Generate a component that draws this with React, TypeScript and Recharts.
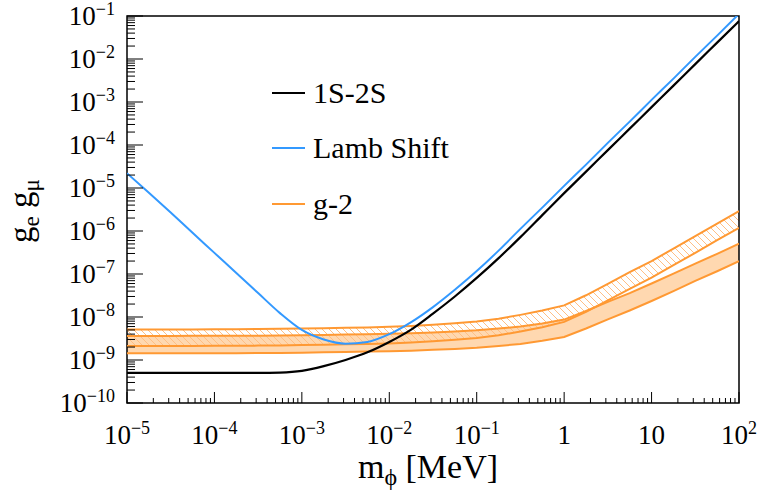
import { Area, ComposedChart, Legend, Line, ReferenceArea, XAxis, YAxis } from 'recharts';

// mediator mass m_phi [MeV], 4 points per decade
const masses = [
  1e-5, 1.78e-5, 3.16e-5, 5.62e-5, 1e-4, 1.78e-4, 3.16e-4, 5.62e-4, 1e-3, 1.78e-3, 3.16e-3, 5.62e-3,
  1e-2, 1.78e-2, 3.16e-2, 5.62e-2, 0.1, 0.178, 0.316, 0.562, 1, 1.78, 3.16, 5.62, 10, 17.8, 31.6, 56.2, 100,
];

// 1S-2S bound on g_e g_mu
const oneSTwoS = [
  5.0e-10, 5.0e-10, 5.0e-10, 5.0e-10, 5.0e-10, 5.0e-10, 5.0e-10, 5.1e-10, 5.6e-10, 7.2e-10, 1.0e-9, 1.51e-9,
  2.63e-9, 5.1e-9, 1.2e-8, 3.0e-8, 8.1e-8, 2.34e-7, 7.2e-7, 2.34e-6, 7.6e-6, 2.4e-5, 7.6e-5, 2.4e-4, 7.6e-4,
  2.4e-3, 7.6e-3, 2.4e-2, 7.6e-2,
];

// Lamb shift bound
const lambShift = [
  2.2e-5, 7.8e-6, 2.7e-6, 9.1e-7, 3.1e-7, 1.05e-7, 3.6e-8, 1.23e-8, 5.0e-9, 3.0e-9, 2.4e-9, 2.63e-9,
  3.98e-9, 7.6e-9, 1.7e-8, 4.3e-8, 1.17e-7, 3.5e-7, 1.12e-6, 3.5e-6, 1.12e-5, 3.5e-5, 1.12e-4, 3.5e-4, 1.12e-3,
  3.5e-3, 1.12e-2, 3.5e-2, 0.112,
];

// g-2, hatched band
const g2HatchHigh = [
  5.13e-9, 5.13e-9, 5.13e-9, 5.15e-9, 5.2e-9, 5.22e-9, 5.25e-9, 5.3e-9, 5.4e-9, 5.47e-9, 5.6e-9, 5.7e-9,
  5.9e-9, 6.2e-9, 6.6e-9, 7.16e-9, 7.85e-9, 9.1e-9, 1.12e-8, 1.41e-8, 1.86e-8, 3.2e-8, 5.9e-8, 1.1e-7, 2.0e-7,
  3.9e-7, 7.6e-7, 1.48e-6, 2.9e-6,
];
const g2HatchLow = [
  2.11e-9, 2.11e-9, 2.11e-9, 2.12e-9, 2.14e-9, 2.15e-9, 2.16e-9, 2.18e-9, 2.22e-9, 2.25e-9, 2.31e-9, 2.35e-9,
  2.43e-9, 2.55e-9, 2.72e-9, 2.95e-9, 3.23e-9, 3.75e-9, 4.6e-9, 5.8e-9, 7.7e-9, 1.32e-8, 2.43e-8, 4.5e-8, 8.2e-8,
  1.6e-7, 3.1e-7, 6.1e-7, 1.19e-6,
];

// g-2, filled band
const g2FillHigh = [
  3.63e-9, 3.63e-9, 3.63e-9, 3.64e-9, 3.65e-9, 3.66e-9, 3.67e-9, 3.71e-9, 3.76e-9, 3.83e-9, 3.9e-9, 3.98e-9,
  4.07e-9, 4.2e-9, 4.37e-9, 4.57e-9, 4.9e-9, 5.4e-9, 6.0e-9, 7.1e-9, 8.7e-9, 1.38e-8, 2.24e-8, 3.6e-8, 6.0e-8,
  1.02e-7, 1.74e-7, 2.95e-7, 5.1e-7,
];
const g2FillLow = [
  1.43e-9, 1.43e-9, 1.43e-9, 1.44e-9, 1.44e-9, 1.44e-9, 1.45e-9, 1.46e-9, 1.48e-9, 1.51e-9, 1.54e-9, 1.57e-9,
  1.6e-9, 1.65e-9, 1.72e-9, 1.8e-9, 1.93e-9, 2.13e-9, 2.36e-9, 2.8e-9, 3.43e-9, 5.4e-9, 8.8e-9, 1.42e-8, 2.36e-8,
  4.0e-8, 6.9e-8, 1.16e-7, 2.0e-7,
];

const xMajorTicks = [1e-5, 1e-4, 1e-3, 1e-2, 1e-1, 1, 10, 100];
const xTickBase = ['10', '10', '10', '10', '10', '1', '10', '10'];
const xTickExp = ['−5', '−4', '−3', '−2', '−1', '', '', '2'];

const yMajorTicks = [1e-10, 1e-9, 1e-8, 1e-7, 1e-6, 1e-5, 1e-4, 1e-3, 1e-2, 1e-1];
const yTickExp = ['−10', '−9', '−8', '−7', '−6', '−5', '−4', '−3', '−2', '−1'];

const legendNames = ['1S-2S', 'Lamb Shift', 'g-2'];
const legendColors = ['#000000', '#3399ff', '#ff9933'];

const ORANGE = '#ff9933';
const FONT = '"Liberation Serif", "Times New Roman", serif';

// plot frame in page pixels
const PLOT_LEFT = 127;
const PLOT_BOTTOM = 403;

const withMinors = (majors: number[]) => {
  const out: number[] = [];
  majors.forEach((m, i) => {
    out.push(m);
    if (i < majors.length - 1) [2, 3, 4, 5, 6, 7, 8, 9].forEach((k) => out.push(m * k));
  });
  return out;
};

const data = masses.map((m, i) => ({
  m,
  oneS: oneSTwoS[i],
  lamb: lambShift[i],
  hHigh: g2HatchHigh[i],
  hLow: g2HatchLow[i],
  fHigh: g2FillHigh[i],
  fLow: g2FillLow[i],
}));

function XTick({ x, payload }: any) {
  const idx = xMajorTicks.indexOf(payload.value);
  const major = idx >= 0;
  return (
    <g>
      <line x1={x} x2={x} y1={PLOT_BOTTOM} y2={PLOT_BOTTOM - (major ? 11 : 5)} stroke="#000" strokeWidth={1} />
      {major && (
        <text x={x} y={444} textAnchor="middle" fontFamily={FONT} fontSize={27} fill="#000">
          <tspan>{xTickBase[idx]}</tspan>
          {xTickExp[idx] && (
            <tspan dy={-10} fontSize={18}>
              {xTickExp[idx]}
            </tspan>
          )}
        </text>
      )}
    </g>
  );
}

function YTick({ y, payload }: any) {
  const idx = yMajorTicks.indexOf(payload.value);
  const major = idx >= 0;
  return (
    <g>
      <line x1={PLOT_LEFT} x2={PLOT_LEFT + (major ? 16 : 8)} y1={y} y2={y} stroke="#000" strokeWidth={1} />
      {major && (
        <text x={115} y={y + 9} textAnchor="end" fontFamily={FONT} fontSize={27} fill="#000">
          <tspan>10</tspan>
          <tspan dy={-10} fontSize={18}>
            {yTickExp[idx]}
          </tspan>
        </text>
      )}
    </g>
  );
}

function YTitle() {
  return (
    <text x={32} y={211} transform="rotate(-90 32 211)" textAnchor="middle" fontFamily={FONT} fontSize={33} fill="#000">
      g<tspan dy={7} fontSize={23}>e</tspan>
      <tspan dy={-7}> g</tspan>
      <tspan dy={7} fontSize={23}>μ</tspan>
    </text>
  );
}

function XTitle() {
  return (
    <text x={428} y={478} textAnchor="middle" fontFamily={FONT} fontSize={34} fill="#000">
      m<tspan dy={7} fontSize={24}>ϕ</tspan>
      <tspan dy={-7}> [MeV]</tspan>
    </text>
  );
}

function LegendBox() {
  return (
    <div style={{ fontFamily: FONT, fontSize: 30, color: '#000' }}>
      {legendNames.map((name, i) => (
        <div key={name} style={{ display: 'flex', alignItems: 'center', height: 55.5 }}>
          <div style={{ width: 33, height: 0, borderTop: `2px solid ${legendColors[i]}`, marginRight: 8 }} />
          <span style={{ lineHeight: 1 }}>{name}</span>
        </div>
      ))}
    </div>
  );
}

export default function App() {
  return (
    <div style={{ position: 'absolute', left: 0, top: 0, width: 769, height: 497, background: '#fff' }}>
      <ComposedChart width={769} height={497} data={data} margin={{ top: 16, right: 30, bottom: 0, left: 0 }}>
        <defs>
          <pattern id="hatch" patternUnits="userSpaceOnUse" width={7} height={7}>
            <path d="M0,0 L7,7 M-1,6 L1,8 M6,-1 L8,1" stroke="#ffbf85" strokeWidth={1} />
          </pattern>
        </defs>
        <XAxis
          dataKey="m"
          type="number"
          scale="log"
          domain={[1e-5, 100]}
          allowDataOverflow
          ticks={withMinors(xMajorTicks)}
          interval={0}
          tick={<XTick />}
          tickLine={false}
          axisLine={false}
          height={94}
          label={<XTitle />}
        />
        <YAxis
          type="number"
          scale="log"
          domain={[1e-10, 0.1]}
          allowDataOverflow
          ticks={withMinors(yMajorTicks)}
          interval={0}
          tick={<YTick />}
          tickLine={false}
          axisLine={false}
          width={127}
          label={<YTitle />}
        />
        <Area
          dataKey={(d: any) => [d.fLow, d.fHigh]}
          type="linear"
          fill="#ffd8b0"
          fillOpacity={1}
          stroke="none"
          isAnimationActive={false}
          legendType="none"
        />
        <Area
          dataKey={(d: any) => [d.hLow, d.hHigh]}
          type="linear"
          fill="url(#hatch)"
          fillOpacity={1}
          stroke="none"
          isAnimationActive={false}
          legendType="none"
        />
        <Line dataKey="fLow" type="linear" stroke={ORANGE} strokeWidth={2} dot={false} isAnimationActive={false} />
        <Line dataKey="fHigh" type="linear" stroke={ORANGE} strokeWidth={2} dot={false} isAnimationActive={false} />
        <Line dataKey="hLow" type="linear" stroke={ORANGE} strokeWidth={2} dot={false} isAnimationActive={false} />
        <Line dataKey="hHigh" type="linear" stroke={ORANGE} strokeWidth={2} dot={false} isAnimationActive={false} />
        <Line dataKey="oneS" type="monotone" stroke="#000" strokeWidth={2.2} dot={false} isAnimationActive={false} />
        <Line dataKey="lamb" type="monotone" stroke="#3399ff" strokeWidth={2} dot={false} isAnimationActive={false} />
        <ReferenceArea x1={1e-5} x2={100} y1={1e-10} y2={0.1} fill="none" stroke="#000" strokeWidth={1.5} />
        <Legend
          layout="vertical"
          align="center"
          verticalAlign="middle"
          wrapperStyle={{ left: 272, top: 65, width: 260, height: 170 }}
          content={() => <LegendBox />}
        />
      </ComposedChart>
    </div>
  );
}
